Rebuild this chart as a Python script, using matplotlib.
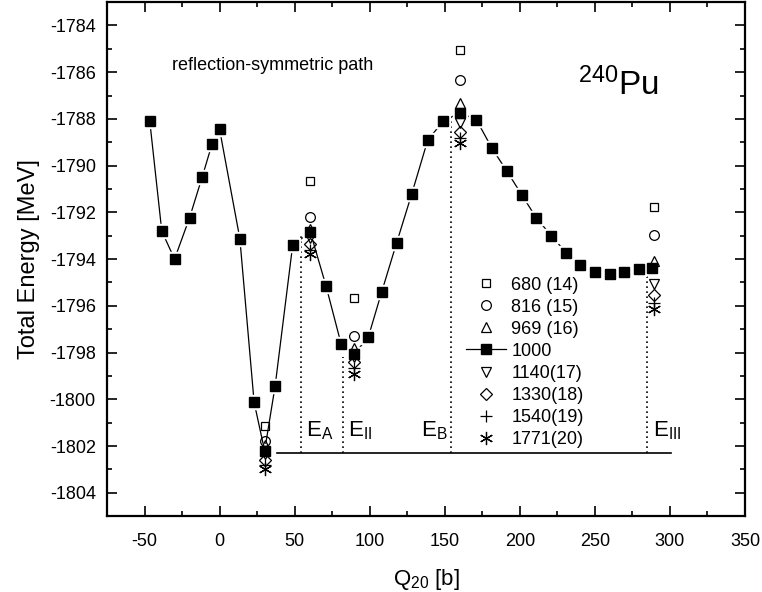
import matplotlib
matplotlib.use("Agg")
import matplotlib.pyplot as plt

plt.rcParams['font.family'] = ['Liberation Sans', 'DejaVu Sans']
plt.rcParams['mathtext.fontset'] = 'custom'
plt.rcParams['mathtext.rm'] = 'Liberation Sans'
plt.rcParams['mathtext.it'] = 'Liberation Sans'
plt.rcParams['mathtext.default'] = 'rm'
plt.rcParams['axes.unicode_minus'] = False

# ---- data ----
q_1000 = [-46.5, -38.5, -30, -20, -11.5, -5, 0, 13.5, 23, 30, 37, 48.7, 60.5, 71, 81,
          89.5, 99, 108, 118, 128, 138.7, 149, 160, 171, 181.5, 191.5, 201.5, 211,
          221, 231, 240, 250, 260, 269.5, 279.5, 288]
e_1000 = [-1788.1, -1792.8, -1794.0, -1792.23, -1790.47, -1789.07, -1788.45, -1793.12,
          -1800.12, -1802.2, -1799.43, -1793.4, -1792.85, -1795.17, -1797.64,
          -1798.07, -1797.35, -1795.4, -1793.29, -1791.21, -1788.9, -1788.1, -1787.74,
          -1788.03, -1789.26, -1790.25, -1791.27, -1792.24, -1793.0, -1793.74,
          -1794.26, -1794.55, -1794.62, -1794.55, -1794.43, -1794.36]

q_stat = [30, 60.5, 89.5, 160, 289.5]
e_680 = [-1801.15, -1790.64, -1795.67, -1785.04, -1791.75]
e_816 = [-1801.8, -1792.19, -1797.27, -1786.33, -1792.97]
e_969 = [-1801.95, -1792.7, -1797.8, -1787.33, -1794.07]
e_1140 = [-1802.35, -1793.1, -1798.2, -1788.19, -1795.07]
e_1330 = [-1802.6, -1793.36, -1798.4, -1788.57, -1795.53]
e_1540 = [-1802.8, -1793.6, -1798.65, -1788.8, -1795.86]
e_1771 = [-1803.0, -1793.79, -1798.9, -1789.04, -1796.14]

labels = ['680 (14)', '816 (15)', '969 (16)', '1000', '1140(17)', '1330(18)', '1540(19)', '1771(20)']

# barrier markers
bar_q = [54, 82, 154, 285]
bar_top = [-1792.87, -1798.19, -1787.76, -1794.5]
bar_names = [r'E$_{\mathregular{A}}$', r'E$_{\mathregular{II}}$', r'E$_{\mathregular{B}}$', r'E$_{\mathregular{III}}$']
bar_label_q = [57.8, 85.5, 152, 289]
ground_line = -1802.3
ground_q = [38, 301]

fig = plt.figure(figsize=(7.62, 5.92), dpi=100)
ax = fig.add_axes([0.1404, 0.128, 0.8373, 0.8686])

# dotted barrier lines
for q, top in zip(bar_q, bar_top):
    ax.plot([q, q], [ground_line, top], color='black', lw=1.2, ls=(0, (1, 2.0)), zorder=1)
ax.plot(ground_q, [ground_line, ground_line], color='black', lw=1.2, zorder=1)

# 1000 curve with gap halo
ax.plot(q_1000, e_1000, color='black', lw=0.9, zorder=2)
ax.plot(q_1000, e_1000, ls='none', marker='s', ms=10.5, mfc='white', mec='white', zorder=3)
h1000, = ax.plot([], [], color='black', lw=0.9, marker='s', ms=7.2, mfc='black', mec='black')
ax.plot(q_1000, e_1000, ls='none', marker='s', ms=7.2, mfc='black', mec='black', zorder=4)

mk = dict(ls='none', color='black', mfc='none', mec='black', mew=0.9, zorder=5)
h680, = ax.plot(q_stat, e_680, marker='s', ms=6.3, **mk)
h816, = ax.plot(q_stat, e_816, marker='o', ms=7, **mk)
h969, = ax.plot(q_stat, e_969, marker='^', ms=7.5, **mk)
h1140, = ax.plot(q_stat, e_1140, marker='v', ms=7.5, **mk)
h1330, = ax.plot(q_stat, e_1330, marker='D', ms=6.3, **mk)
h1540, = ax.plot(q_stat, e_1540, marker='+', ms=8.5, **mk)
h1771, = ax.plot(q_stat, e_1771, marker=(6, 2, 0), ms=9.5, **mk)

handles = [h680, h816, h969, h1000, h1140, h1330, h1540, h1771]
leg = ax.legend(handles, labels, loc='upper left', bbox_to_anchor=(0.563, 0.466),
                frameon=False, fontsize=13, labelspacing=0.28, handlelength=2.2,
                handletextpad=0.3, borderaxespad=0, borderpad=0)

for q, name, lq in zip(bar_q, bar_names, bar_label_q):
    ha = 'right' if name.endswith('B}}$') else 'left'
    ax.text(lq, -1801.6, name, fontsize=16, ha=ha, va='baseline')

ax.text(-32, -1785.93, 'reflection-symmetric path', fontsize=13, ha='left', va='baseline')
ax.text(238.7, -1787.0, r'$^{240}$Pu', fontsize=24, ha='left', va='baseline')

ax.set_xlim(-75, 350)
ax.set_ylim(-1805, -1783)
ax.set_xticks(range(-50, 351, 50))
ax.set_xticks(range(-75, 351, 25), minor=True)
ax.set_yticks(range(-1804, -1783, 2))
ax.set_yticks(range(-1805, -1782, 1), minor=True)
ax.tick_params(which='both', direction='in', top=True, right=True, labelsize=13)
ax.tick_params(axis='y', which='both', pad=8)
ax.tick_params(axis='x', which='both', pad=12)
ax.tick_params(which='major', length=7.2, width=1.2)
ax.tick_params(which='minor', length=3.8, width=1.2)
for s in ax.spines.values():
    s.set_linewidth(1.6)

ax.set_xlabel(r'Q$_{20}$ [b]', fontsize=16, labelpad=12)
ax.set_ylabel('Total Energy [MeV]', fontsize=17, labelpad=7)

fig.savefig('out.png', dpi=100)
